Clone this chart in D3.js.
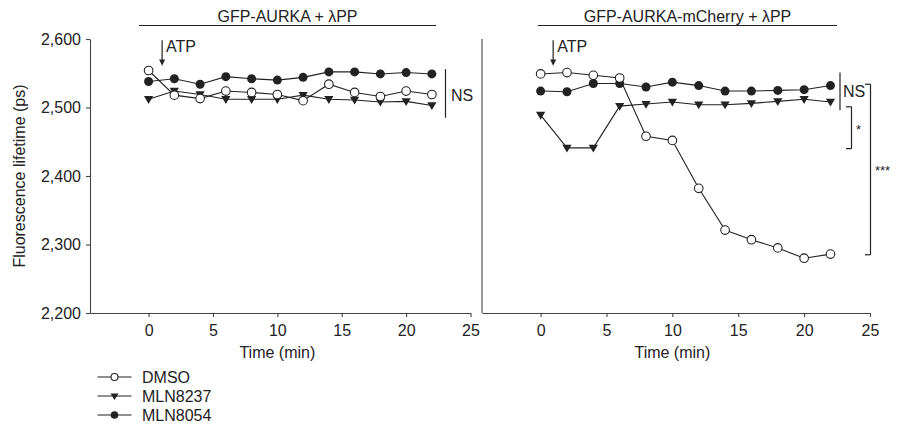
<!DOCTYPE html>
<html><head><meta charset="utf-8">
<script src="https://cdn.jsdelivr.net/npm/d3@7"></script>
<style>
body{margin:0;background:#fff;}
svg{display:block;font-family:"Liberation Sans",Arial,sans-serif;}
</style></head>
<body>
<svg id="c" width="901" height="426"></svg>
<script>
const times = [0,2,4,6,8,10,12,14,16,18,20,22];
const xTicks = [0,5,10,15,20,25];
const yTicks = [2200,2300,2400,2500,2600];
const seriesNames = ["DMSO","MLN8237","MLN8054"];
const panelTitles = ["GFP-AURKA + \u03bbPP","GFP-AURKA-mCherry + \u03bbPP"];
// left panel
const leftDMSO    = [2554,2518,2513,2524,2522,2519,2510,2534,2522,2516,2524,2519];
const leftMLN8237 = [2512,2524,2519,2512,2512,2512,2518,2512,2511,2508,2509,2503];
const leftMLN8054 = [2538,2542,2534,2545,2542,2540,2544,2552,2552,2549,2551,2549];
// right panel
const rightDMSO    = [2549,2551,2547,2543,2458,2452,2382,2321,2307,2295,2280,2286];
const rightMLN8237 = [2489,2441,2441,2502,2505,2508,2504,2504,2506,2509,2512,2508];
const rightMLN8054 = [2524,2523,2535,2535,2530,2537,2532,2524,2524,2525,2526,2532];

const svg = d3.select("#c");
const ink = "#222";
const axisCol = "#444";
const fs = 16;

const y = d3.scaleLinear().domain([2200,2600]).range([313,39]);
const xL = d3.scaleLinear().domain([-4.55,25]).range([90,470.5]);
const xR = d3.scaleLinear().domain([-4.45,25]).range([482,870]);

function styleAxis(g){
  g.selectAll("path,line").attr("stroke",axisCol).attr("stroke-width",1.1);
  g.selectAll("text").attr("fill",ink).style("font-size",fs+"px").style("font-family","'Liberation Sans',Arial,sans-serif");
}

// y axis left
const gy = svg.append("g").attr("transform","translate(90,0)")
  .call(d3.axisLeft(y).tickValues(yTicks).tickFormat(d3.format(",")).tickSize(4).tickSizeOuter(0).tickPadding(5));
styleAxis(gy);
// y axis right (no ticks)
svg.append("line").attr("x1",xR.range()[0]).attr("x2",xR.range()[0]).attr("y1",y(2600)).attr("y2",y(2200))
  .attr("stroke",axisCol).attr("stroke-width",1.1);

[xL,xR].forEach(x=>{
  const g = svg.append("g").attr("transform",`translate(0,${y(2200)})`)
    .call(d3.axisBottom(x).tickValues(xTicks).tickFormat(d3.format("d")).tickSize(4).tickSizeOuter(0).tickPadding(8));
  styleAxis(g);
  svg.append("text").attr("x",x(10)).attr("y",358).attr("text-anchor","middle")
    .attr("fill",ink).style("font-size",fs+"px").text("Time (min)");
});

// y label
svg.append("text").attr("transform","translate(25,176) rotate(-90)").attr("text-anchor","middle")
  .attr("fill",ink).style("font-size",fs+"px").text("Fluorescence lifetime (ps)");

// titles
[[panelTitles[0],139,436],[panelTitles[1],538,837]].forEach(([t,a,b])=>{
  svg.append("text").attr("x",(a+b)/2).attr("y",22).attr("text-anchor","middle").attr("fill",ink).style("font-size",fs+"px").text(t);
  svg.append("line").attr("x1",a).attr("x2",b).attr("y1",25.5).attr("y2",25.5).attr("stroke",ink).attr("stroke-width",1.1);
});

// ATP arrows
[[xL,1.05],[xR,0.95]].forEach(([x,t])=>{
  const px = x(t);
  svg.append("line").attr("x1",px).attr("x2",px).attr("y1",y(2598)).attr("y2",y(2568)).attr("stroke",ink).attr("stroke-width",1.2);
  svg.append("path").attr("d",`M${px-3},${y(2570)} L${px+3},${y(2570)} L${px},${y(2561)} Z`).attr("fill",ink);
  svg.append("text").attr("x",px+4).attr("y",y(2581)).attr("fill",ink).style("font-size",fs+"px").text("ATP");
});

// series drawing
function drawSeries(x, vals, kind){
  const pts = times.map((t,i)=>[x(t), y(vals[i])]);
  svg.append("path").attr("d",d3.line()(pts)).attr("fill","none").attr("stroke",ink).attr("stroke-width",1.1);
  pts.forEach(p=>marker(p[0],p[1],kind));
}
function marker(cx,cy,kind){
  if(kind==="DMSO"){
    svg.append("circle").attr("cx",cx).attr("cy",cy).attr("r",4.3).attr("fill","#fff").attr("stroke",ink).attr("stroke-width",1.1);
  } else if(kind==="MLN8054"){
    svg.append("circle").attr("cx",cx).attr("cy",cy).attr("r",4.5).attr("fill",ink);
  } else {
    svg.append("path").attr("d",`M${cx-4.6},${cy-3.2} L${cx+4.6},${cy-3.2} L${cx},${cy+4.6} Z`).attr("fill",ink);
  }
}
drawSeries(xL, leftMLN8054, "MLN8054");
drawSeries(xL, leftMLN8237, "MLN8237");
drawSeries(xL, leftDMSO, "DMSO");
drawSeries(xR, rightMLN8054, "MLN8054");
drawSeries(xR, rightMLN8237, "MLN8237");
drawSeries(xR, rightDMSO, "DMSO");

// significance brackets
function vline(px,v1,v2){svg.append("line").attr("x1",px).attr("x2",px).attr("y1",y(v1)).attr("y2",y(v2)).attr("stroke",ink).attr("stroke-width",1.2);}
function hline(a,b,v){svg.append("line").attr("x1",a).attr("x2",b).attr("y1",y(v)).attr("y2",y(v)).attr("stroke",ink).attr("stroke-width",1.2);}
function label(px,v,t,size){svg.append("text").attr("x",px).attr("y",y(v)).attr("dominant-baseline","central").attr("fill",ink).style("font-size",(size||fs)+"px").text(t);}
// left NS
vline(445.5,2556,2485); label(451,2517,"NS");
// right NS
vline(840,2551,2496); label(843,2524,"NS");
// * bracket
vline(851.5,2501,2440); hline(846,851.5,2501); hline(846,851.5,2440); label(856,2468,"*",13);
// *** bracket
vline(870.5,2534,2285); hline(865,870.5,2534); hline(865,870.5,2285); label(875,2408,"***",13);

// legend
const legY = [377,396,415];
seriesNames.forEach((n,i)=>{
  svg.append("line").attr("x1",97.5).attr("x2",131.5).attr("y1",legY[i]).attr("y2",legY[i]).attr("stroke",ink).attr("stroke-width",1.1);
  if(n==="DMSO") svg.append("circle").attr("cx",114.5).attr("cy",legY[i]).attr("r",3.5).attr("fill","#fff").attr("stroke",ink).attr("stroke-width",1.1);
  else if(n==="MLN8054") svg.append("circle").attr("cx",114.5).attr("cy",legY[i]).attr("r",3.8).attr("fill",ink);
  else svg.append("path").attr("d",`M${110.5},${legY[i]-2.5} L${118.5},${legY[i]-2.5} L${114.5},${legY[i]+4} Z`).attr("fill",ink);
  svg.append("text").attr("x",142).attr("y",legY[i]).attr("dominant-baseline","central").attr("fill",ink).style("font-size",fs+"px").text(n);
});
</script>
</body></html>
